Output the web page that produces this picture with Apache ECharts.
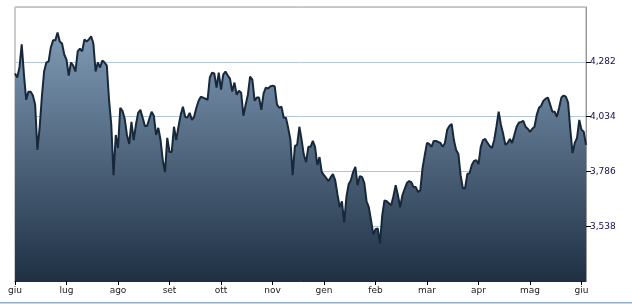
<!DOCTYPE html>
<html><head><meta charset="utf-8">
<script src="https://cdn.jsdelivr.net/npm/echarts@6/dist/echarts.min.js"></script>
<style>html,body{margin:0;padding:0;background:#fff}#c{width:632px;height:306px}</style>
</head><body><div id="c"></div>
<script>
const tickLabels = ['giu','lug','ago','set','ott','nov','gen','feb','mar','apr','mag','giu'];
const tickEvery = 23;
const values = [
4229,4211,4256,4361,4224,4110,4147,4147,4129,4088,
3883,3983,4124,4238,4279,4283,4347,4379,4379,4415,
4374,4365,4315,4292,4220,4279,4265,4238,4329,4342,
4329,4383,4374,4383,4397,4365,4238,4279,4256,4288,
4279,4265,4110,3997,3769,3951,3892,4074,4060,4024,
3951,3910,4010,3928,3997,4051,4065,4029,3992,3992,
4024,4056,4038,3951,3983,3928,3837,3783,3938,3874,
3874,3988,3928,3988,4042,4079,4033,4029,4051,4019,
4033,4074,4106,4124,4120,4115,4110,4211,4233,4229,
4165,4233,4156,4224,4238,4220,4206,4147,4188,4133,
4151,4142,4038,4088,4133,4215,4201,4106,4120,4120,
4065,4138,4165,4161,4170,4174,4170,4088,4074,4079,
4029,4029,3983,3928,3769,3901,3906,3988,3928,3860,
3828,3897,3897,3924,3897,3815,3851,3783,3769,3756,
3742,3760,3774,3746,3683,3624,3651,3555,3669,3728,
3746,3783,3806,3724,3765,3760,3733,3651,3624,3565,
3501,3524,3528,3460,3587,3655,3651,3642,3633,3674,
3724,3678,3624,3678,3706,3733,3742,3737,3715,3715,
3692,3701,3801,3860,3915,3910,3897,3924,3924,3919,
3915,3897,3915,3974,3992,4001,3928,3883,3865,3769,
3710,3710,3774,3778,3815,3833,3837,3819,3897,3928,
3933,3915,3901,3892,3928,3988,4056,3997,3956,3906,
3915,3933,3915,3951,3988,4006,4010,4015,3988,3979,
3965,3979,3988,4042,4074,4083,4106,4115,4120,4088,
4056,4056,4033,4074,4120,4129,4124,4097,3974,3869,
3915,3938,4019,3974,3965,3906
];
const yMin = 3290, yMax = 4530, yStep = 248;

const categories = values.map((v, i) => (i % tickEvery === 0 ? (tickLabels[i / tickEvery] || '') : ''));

const chart = echarts.init(document.getElementById('c'), null, {renderer: 'canvas'});
chart.setOption({
  animation: false,
  backgroundColor: '#ffffff',
  grid: {left: 15, right: 46, top: 7, bottom: 25, show: true, borderColor: '#9a9a9a', borderWidth: 1, backgroundColor: 'transparent'},
  xAxis: {
    type: 'category',
    data: categories,
    boundaryGap: false,
    axisLine: {show: true, lineStyle: {color: '#1e2d3e', width: 1}},
    axisTick: {show: true, length: 4, interval: (i) => i % tickEvery === 0, lineStyle: {color: '#000'}},
    axisLabel: {interval: (i) => i % tickEvery === 0, margin: 5, fontSize: 9, color: '#1a1a1a', fontFamily: 'DejaVu Sans'},
    splitLine: {show: false}
  },
  yAxis: {
    type: 'value',
    position: 'right',
    min: yMin, max: yMax, interval: yStep,
    axisLine: {show: true, lineStyle: {color: '#9a9a9a', width: 1}},
    axisTick: {show: true, length: 5, lineStyle: {color: '#000'}},
    axisLabel: {
      margin: 4, fontSize: 9, color: '#10104a', fontFamily: 'DejaVu Sans',
      showMinLabel: false, showMaxLabel: false,
      formatter: (v) => v.toLocaleString('en-US')
    },
    splitLine: {show: true, lineStyle: {color: '#b4c6da', width: 1}}
  },
  graphic: [{
    type: 'rect', left: 0, top: 302, shape: {width: 632, height: 1.5},
    style: {fill: '#8fb0cf'}, silent: true
  }],
  series: [{
    type: 'line',
    data: values,
    symbol: 'none',
    smooth: false,
    lineStyle: {color: '#17283a', width: 2},
    areaStyle: {
      origin: 'start',
      opacity: 1,
      color: new echarts.graphic.LinearGradient(0, 0, 0, 1, [
        {offset: 0, color: '#7f9ab5'},
        {offset: 1, color: '#1f3044'}
      ])
    }
  }]
});
</script></body></html>
